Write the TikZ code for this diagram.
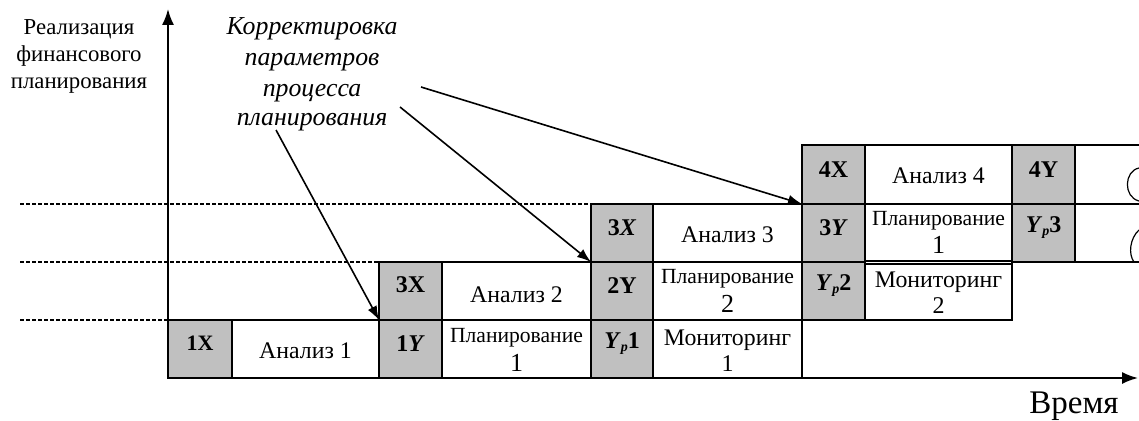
\documentclass[tikz,border=0pt]{standalone}
\usepackage{fontspec}
\setmainfont{Liberation Serif}
\usetikzlibrary{arrows.meta}
\definecolor{cellgray}{HTML}{C0C0C0}
\newcommand{\mkcell}[6]{\node[#1, minimum width={(#5-#3)*1pt}, minimum height={(#6-#4)*1pt}] (#2) at (#3,#4) {};}
\newcommand{\celltext}[5]{\node[#1, anchor=base] (#2) at ([yshift=-#4pt]#3.north) {#5};}
\newcommand{\Ypp}[1]{\textit{Y}\raisebox{-0.35ex}{\fontsize{14}{14}\selectfont\textit{p}}#1}
\tikzset{
  cell/.style={draw=black, line width=1.6pt, inner sep=0pt, outer sep=0pt, anchor=north west},
  gcell/.style={cell, fill=cellgray},
  wcell/.style={cell, fill=white},
  glbl/.style={font=\fontsize{24}{26}\selectfont\bfseries, inner sep=0pt},
  wlbl/.style={font=\fontsize{23.8}{27}\selectfont, inner sep=0pt},
  plbl/.style={font=\fontsize{21.6}{24}\selectfont, inner sep=0pt},
  pdig/.style={font=\fontsize{26}{28}\selectfont, inner sep=0pt},
  mdig/.style={font=\fontsize{24}{26}\selectfont, inner sep=0pt},
  dashln/.style={line width=1.2pt, dash pattern=on 4pt off 2pt},
  pointer/.style={line width=1.6pt, -{Latex[length=14pt,width=10pt]}},
  axis/.style={line width=1.8pt, -{Latex[length=16pt,width=12pt]}},
  sidetxt/.style={font=\fontsize{22.8}{26.5}\selectfont, inner sep=0pt, anchor=base},
  corrtxt/.style={font=\fontsize{25.8}{30}\selectfont\itshape, inner sep=0pt, anchor=base},
}
\begin{document}
\begin{tikzpicture}[x=1pt,y=-1pt]
\useasboundingbox (0,0) rectangle (1139,420);
\clip (0,0) rectangle (1139,420);
% dashed guide lines
\coordinate (d1) at (20,204);
\coordinate (d2) at (20,262);
\coordinate (d3) at (20,320);
\coordinate (d3e) at (168,320);
% row 1
\mkcell{gcell}{b1X}{168}{320}{232}{378}
\mkcell{wcell}{bA1}{232}{320}{379}{378}
\mkcell{gcell}{b1Y}{379}{320}{442}{378}
\mkcell{wcell}{bP1}{442}{320}{591}{378}
\mkcell{gcell}{bYp1}{591}{320}{653}{378}
\mkcell{wcell}{bM1}{653}{320}{802}{378}
% row 2
\mkcell{gcell}{b3Xa}{379}{262}{442}{320}
\mkcell{wcell}{bA2}{442}{262}{591}{320}
\mkcell{gcell}{b2Y}{591}{262}{653}{320}
\mkcell{wcell}{bP2}{653}{262}{802}{320}
\mkcell{gcell}{bYp2}{802}{262}{865}{320}
\mkcell{wcell}{bM2}{865}{264}{1012}{320}
% row 3
\mkcell{gcell}{b3Xb}{591}{204}{653}{262}
\mkcell{wcell}{bA3}{653}{204}{802}{262}
\mkcell{gcell}{b3Y}{802}{204}{865}{262}
\mkcell{wcell}{bP1b}{865}{204}{1012}{261}
\mkcell{gcell}{bYp3}{1012}{204}{1075}{262}
\mkcell{wcell}{bE3}{1075}{204}{1150}{262}
% row 4
\mkcell{gcell}{b4X}{802}{145}{865}{204}
\mkcell{wcell}{bA4}{865}{145}{1012}{204}
\mkcell{gcell}{b4Y}{1012}{145}{1075}{204}
\mkcell{wcell}{bE4}{1075}{145}{1150}{204}
% dashed lines
\draw[dashln] (d1) -- (b3Xb.north west);
\draw[dashln] (d2) -- (b3Xa.north west);
\draw[dashln] (d3) -- (d3e);
% cloud fragments
\draw[line width=1.2pt] (1139,168) .. controls (1124,171) and (1123,197) .. (1139,201);
\draw[line width=1.2pt] (1139,230) .. controls (1130,238) and (1128,254) .. (1134,262);
% axes
\coordinate (ytop) at (168,9);
\coordinate (xend) at (1138,378);
\draw[axis] (b1X.south west) -- (ytop);
\draw[axis] (b1X.south west) -- (xend);
% labels in gray cells
\celltext{glbl}{t1X}{b1X}{30}{\fontsize{22}{24}\selectfont 1X}
\celltext{glbl}{t1Y}{b1Y}{31}{1\textit{Y}}
\celltext{glbl}{tYp1}{bYp1}{28}{\Ypp{1}}
\celltext{glbl}{t3Xa}{b3Xa}{30}{3X}
\celltext{glbl}{t2Y}{b2Y}{31}{2Y}
\celltext{glbl}{tYp2}{bYp2}{28}{\Ypp{2}}
\celltext{glbl}{t3Xb}{b3Xb}{31}{3\textit{X}}
\celltext{glbl}{t3Y}{b3Y}{31}{3\textit{Y}}
\celltext{glbl}{tYp3}{bYp3}{28}{\Ypp{3}}
\celltext{glbl}{t4X}{b4X}{32}{4X}
\celltext{glbl}{t4Y}{b4Y}{32}{4Y}
% labels in white cells
\celltext{wlbl}{tA1}{bA1}{38}{Анализ 1}
\celltext{wlbl}{tA2}{bA2}{40}{Анализ 2}
\celltext{wlbl}{tA3}{bA3}{38}{Анализ 3}
\celltext{wlbl}{tA4}{bA4}{38}{Анализ 4}
\celltext{plbl}{tP1a}{bP1}{22}{Планирование}
\celltext{pdig}{tP1b}{bP1}{51}{1}
\celltext{plbl}{tP2a}{bP2}{21}{Планирование}
\celltext{pdig}{tP2b}{bP2}{50}{2}
\celltext{plbl}{tP3a}{bP1b}{21}{Планирование}
\celltext{pdig}{tP3b}{bP1b}{49}{1}
\celltext{wlbl}{tM1a}{bM1}{25}{Мониторинг}
\celltext{mdig}{tM1b}{bM1}{51}{1}
\celltext{wlbl}{tM2a}{bM2}{23}{Мониторинг}
\celltext{mdig}{tM2b}{bM2}{49}{2}
% side texts (one node per line, placed on baselines)
\node[sidetxt] (ylab1) at (79,35) {Реализация};
\node[sidetxt] (ylab2) at (79,62) {финансового};
\node[sidetxt] (ylab3) at (79,88) {планирования};
\node[corrtxt] (corr1) at (312,35) {Корректировка};
\node[corrtxt] (corr2) at (312,65) {параметров};
\node[corrtxt] (corr3) at (312,96) {процесса};
\node[corrtxt] (corr4) at (312,125) {планирования};
\node[font=\fontsize{33}{36}\selectfont, inner sep=0pt, anchor=base] (tlab) at (1074,413) {Время};
% pointers
\coordinate (p1) at (276,130);
\coordinate (p2) at (400,107);
\coordinate (p3) at (421,87);
\draw[pointer] (p1) -- (b1Y.north west);
\draw[pointer] (p2) -- (b2Y.north west);
\draw[pointer] (p3) -- (b3Y.north west);
\end{tikzpicture}
\end{document}
